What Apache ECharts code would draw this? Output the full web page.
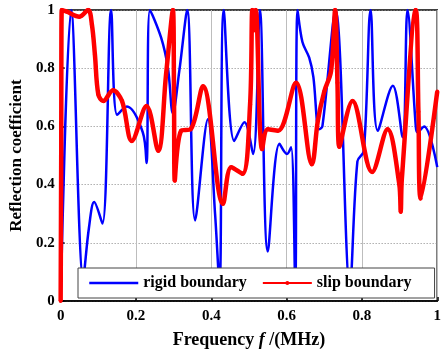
<!DOCTYPE html>
<html>
<head>
<meta charset="utf-8">
<script src="https://cdn.jsdelivr.net/npm/echarts@6/dist/echarts.min.js"></script>
<style>
  html, body { margin: 0; padding: 0; background: #fff; }
  #chart { width: 444px; height: 354px; }
</style>
</head>
<body>
<div id="chart"></div>
<script>
// values
const rigidFreq = [0, 0.028, 0.06, 0.075, 0.089, 0.111, 0.134, 0.15, 0.176, 0.218, 0.228, 0.237, 0.267, 0.285, 0.298, 0.315, 0.336,
  0.357, 0.391, 0.41, 0.422, 0.433, 0.461, 0.488, 0.511, 0.529, 0.55, 0.581, 0.601, 0.612, 0.623, 0.629, 0.642, 0.66, 0.671,
  0.686, 0.695, 0.73, 0.768, 0.788, 0.805, 0.823, 0.842, 0.882, 0.908, 0.921, 0.943, 0.947, 0.965, 1.0];
const rigidCoef = [0, 1, 0.08, 0.25, 0.34, 0.266, 1, 0.64, 0.668, 0.58, 0.474, 1, 0.904, 0.8, 0.645, 0.79, 1,
  0.277, 0.625, 0.3, 0.05, 1, 0.55, 0.614, 0.505, 1, 0.17, 0.54, 0.505, 0.528, 0.05, 1, 0.89, 0.836, 0.77,
  0.59, 0.6, 1, 0.05, 0.48, 0.516, 1, 0.585, 0.74, 0.563, 1, 0.6, 0.58, 0.6, 0.46];

const slipFreq = [0, 0.0015, 0.003, 0.015, 0.05, 0.073, 0.083, 0.091, 0.1, 0.113, 0.139, 0.163, 0.189, 0.228, 0.259, 0.28, 0.298,
  0.301, 0.303, 0.32, 0.345, 0.378, 0.431, 0.453, 0.483, 0.503, 0.509, 0.513, 0.518, 0.535, 0.55, 0.577, 0.625, 0.667, 0.683,
  0.7, 0.718, 0.729, 0.735, 0.74, 0.775, 0.827, 0.868, 0.899, 0.903, 0.906, 0.943, 0.95, 0.956, 1.0];
const slipCoef = [0, 0.5, 1, 0.995, 0.977, 1, 0.95, 0.846, 0.71, 0.687, 0.724, 0.687, 0.55, 0.67, 0.516, 0.78, 1,
  0.7, 0.414, 0.585, 0.59, 0.738, 0.334, 0.46, 0.437, 0.676, 1, 0.93, 1, 0.522, 0.59, 0.585, 0.75, 0.47, 0.62,
  0.72, 0.79, 1, 0.75, 0.53, 0.687, 0.443, 0.59, 0.403, 0.307, 0.42, 1, 0.65, 0.352, 0.72];

const xTicks = [0, 0.2, 0.4, 0.6, 0.8, 1];

const serif = '"Liberation Serif", "Times New Roman", serif';
const chart = echarts.init(document.getElementById('chart'));

chart.setOption({
  animation: false,
  grid: { left: 60, right: 2, top: 10, bottom: 51, show: true, borderColor: '#000', borderWidth: 1.5 },
  legend: {
    left: 78, top: 268,
    padding: [7, 23, 7, 10],
    itemGap: 15, itemWidth: 49, itemHeight: 5,
    backgroundColor: '#fff', borderColor: '#444', borderWidth: 1,
    textStyle: { fontFamily: serif, fontWeight: 'bold', fontSize: 16, color: '#000' },
    data: [
      { name: 'rigid boundary', itemStyle: { opacity: 0 }, lineStyle: { width: 2.5 } },
      { name: 'slip boundary', lineStyle: { width: 2 } }
    ]
  },
  xAxis: {
    type: 'value', min: 0, max: 1, interval: 0.2,
    name: '{a|Frequency }{i|f}{a| /(MHz)}',
    nameLocation: 'middle', nameGap: 30,
    nameTextStyle: {
      rich: {
        a: { fontFamily: serif, fontWeight: 'bold', fontSize: 18, color: '#000' },
        i: { fontFamily: serif, fontWeight: 'bold', fontStyle: 'italic', fontSize: 18, color: '#000' }
      }
    },
    axisLine: { lineStyle: { color: '#000', width: 1.5 } },
    axisTick: { inside: true, length: 4, lineStyle: { color: '#000', width: 1.5 } },
    axisLabel: {
      margin: 8, fontFamily: serif, fontWeight: 'bold', fontSize: 15, color: '#000',
      formatter: v => xTicks.includes(+v.toFixed(1)) ? String(+v.toFixed(1)) : ''
    },
    splitLine: { show: true, lineStyle: { color: '#bdbdbd', width: 1 } }
  },
  yAxis: {
    type: 'value', min: 0, max: 1, interval: 0.2,
    name: 'Reflection coefficient',
    nameLocation: 'middle', nameGap: 35,
    nameTextStyle: { fontFamily: serif, fontWeight: 'bold', fontSize: 17, color: '#000' },
    axisLine: { lineStyle: { color: '#000', width: 1.5 } },
    axisTick: { inside: true, length: 4, lineStyle: { color: '#000', width: 1.5 } },
    axisLabel: { margin: 6, fontFamily: serif, fontWeight: 'bold', fontSize: 15, color: '#000' },
    splitLine: { show: true, lineStyle: { color: '#888', width: 1, type: [1, 2] } }
  },
  series: [
    {
      name: 'rigid boundary', type: 'line', smooth: 0.35, symbol: 'none',
      color: '#0000ff', lineStyle: { width: 2.5, color: '#0000ff' },
      data: rigidFreq.map((f, i) => [f, rigidCoef[i]])
    },
    {
      name: 'slip boundary', type: 'line', smooth: 0.35, symbol: 'circle', symbolSize: 4,
      showAllSymbol: true,
      color: '#ff0000', itemStyle: { color: '#ff0000' }, lineStyle: { width: 4.5, color: '#ff0000' },
      data: slipFreq.map((f, i) => [f, slipCoef[i]])
    }
  ]
});
</script>
</body>
</html>
